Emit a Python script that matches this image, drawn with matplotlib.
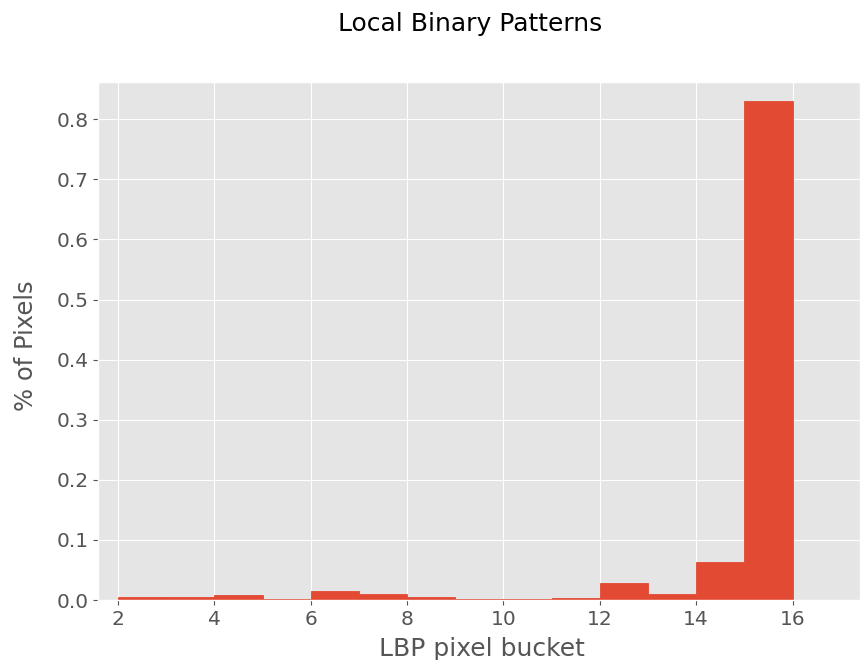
import numpy as np
import matplotlib
matplotlib.use("Agg")
import matplotlib.pyplot as plt

plt.style.use("ggplot")

# LBP bucket left edges and normalized pixel share
buckets = [0, 1, 2, 3, 4, 5, 6, 7, 8, 9, 10, 11, 12, 13, 14, 15]
share = [0.0, 0.0, 0.005, 0.005, 0.008, 0.001, 0.015, 0.010,
         0.005, 0.001, 0.001, 0.004, 0.029, 0.010, 0.063, 0.830]

fig = plt.figure(figsize=(8.6, 6.6), dpi=100)
ax = fig.add_axes([98 / 860, 60 / 660, 1 - 98 / 860, (600 - 82) / 660])
ax.bar(buckets, share, width=1.0, align="edge", color="#E24A33",
       edgecolor="#E24A33", linewidth=0.6)

ax.set_xlim(1.585, 17.4)
ax.set_ylim(0, 0.862)
ax.set_xticks([2, 4, 6, 8, 10, 12, 14, 16])
ax.set_yticks(np.arange(0, 0.81, 0.1))
ax.tick_params(labelsize=14.5, colors="#555555")
ax.set_xlabel("LBP pixel bucket", fontsize=18, color="#555555")
ax.set_ylabel("% of Pixels", fontsize=17.5, color="#555555")
ax.xaxis.set_label_coords(0.5 + 3 / 762, -0.071)
ax.yaxis.set_label_coords(-0.079, 0.5 - 5 / 518)

fig.text(470 / 860, 1 - 24 / 660, "Local Binary Patterns", ha="center",
         va="center", fontsize=18)

fig.savefig("out.png", dpi=100)
